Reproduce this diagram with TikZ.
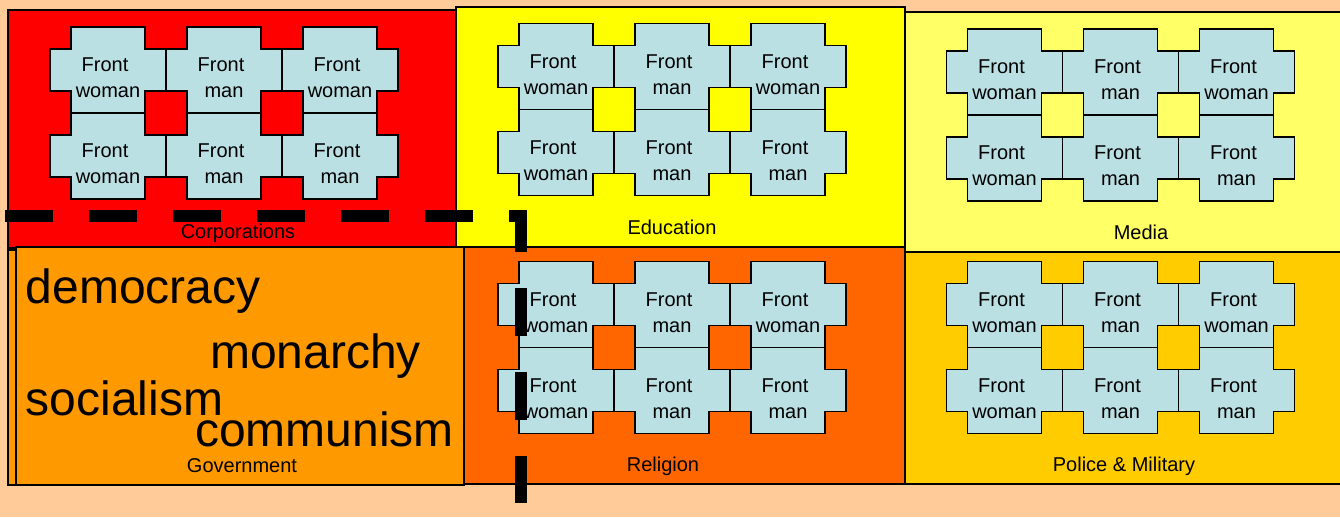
\documentclass[tikz,border=0pt]{standalone}
\usepackage{fontspec}
\setmainfont{Liberation Sans}
\usepackage{xcolor}
\usepackage{tikz}
\usetikzlibrary{positioning}
\definecolor{Peach}{HTML}{FFCC99}
\definecolor{CorpRed}{HTML}{FF0000}
\definecolor{EduYellow}{HTML}{FFFF00}
\definecolor{MediaYellow}{HTML}{FFFF66}
\definecolor{GovOrange}{HTML}{FF9900}
\definecolor{RelOrange}{HTML}{FF6600}
\definecolor{PoliceGold}{HTML}{FFCC00}
\definecolor{TileBlue}{HTML}{BBE0E3}

\begin{document}
\begin{tikzpicture}[x=1pt,y=-1pt,
  panel/.style={draw=black,line width=1.8pt},
  tile/.style={draw=black,fill=TileBlue,line width=1.8pt,line join=miter},
  tiletext/.style={font=\fontsize{20}{26}\selectfont,align=center,inner sep=0pt},
  plabel/.style={font=\fontsize{20}{24}\selectfont,anchor=base,inner sep=0pt},
  regime/.style={font=\fontsize{48}{56}\selectfont,anchor=base west,inner sep=0pt},
  cut/.style={draw=black,line width=12pt,dash pattern=on 48pt off 36pt,line join=miter},
]
\useasboundingbox (0,0) rectangle (1340,517);
\fill[Peach] (0,0) rectangle (1340,517);

%% Top row of panels
\draw[panel,fill=CorpRed]     (8,10)   rectangle (457,248);
\draw[panel,fill=EduYellow]   (456,7)  rectangle (905,247);
\draw[panel,fill=MediaYellow] (905,12) rectangle (1346,252);

%% Bottom row of panels
\draw[panel,fill=GovOrange]   (8,250)   rectangle (16,485);
\draw[panel,fill=GovOrange]   (16,247)  rectangle (464,485);
\draw[panel,fill=RelOrange]   (464,247) rectangle (905,484);
\draw[panel,fill=PoliceGold]  (905,252) rectangle (1346,484);

%% Front tiles, 2x3 in each panel
\foreach \pname/\px/\py in {corp/108/70,edu/556/66.5,media/1004.5/72,
                            rel/556/304.5,police/1004.5/304.5} {
  \foreach \c/\r/\who in {0/0/woman,1/0/man,2/0/woman,
                          0/1/woman,1/1/man,2/1/man} {
    \draw[tile] ({\px+116*\c-37},{\py+86*\r-43}) -- ++(74,0) -- ++(0,22)
      -- ++(21,0) -- ++(0,42) -- ++(-21,0) -- ++(0,22) -- ++(-74,0)
      -- ++(0,-22) -- ++(-21,0) -- ++(0,-42) -- ++(21,0) -- cycle;
    \node[tiletext] (\pname-\c-\r) at ({\px+116*\c},{\py+86*\r+8})
      {Front\kern6pt\\\who};
  }
}

%% Panel names
\node[plabel] (corpname)   at (238,238.5)  {Corporations};
\node[plabel] (eduname)    at (672,234.3)  {Education};
\node[plabel] (medianame)  at (1141,239.3) {Media};
\node[plabel] (govname)    at (242,472.3)  {Government};
\node[plabel] (relname)    at (663,471.7)  {Religion};
\node[plabel] (policename) at (1124,471.7) {Police \& Military};

%% Forms of government
\node[regime] (democracy) at (25.5,303.3) {democracy};
\node[regime] (monarchy)  at (210,368.3)  {monarchy};
\node[regime] (socialism) at (25.5,415)   {socialism};
\node[regime] (communism) at (195,446.7)  {communism};

%% Thick dashed cut line
\coordinate (cutstart)  at (5,215.5);
\coordinate (cutcorner) at (521,215.5);
\coordinate (cutend)    at (521,503);
\draw[cut] (cutstart) -- (cutcorner) -- (cutend);

\end{tikzpicture}
\end{document}
